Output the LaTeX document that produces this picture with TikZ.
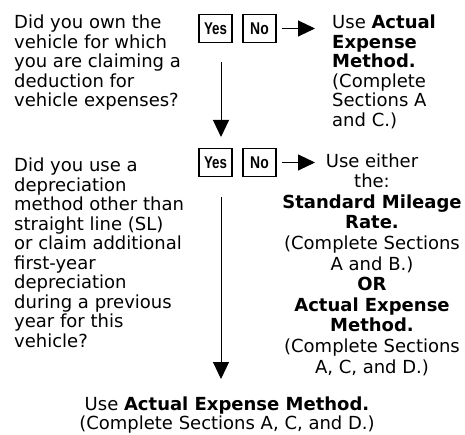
\documentclass[tikz,border=0pt]{standalone}
\usepackage{fontspec}
\setmainfont{DejaVu Sans}
\newfontfamily\ynfont{Liberation Sans}
\usetikzlibrary{arrows.meta,calc}
\begin{document}
\begin{tikzpicture}[x=1pt,y=-1pt,
  txt/.style={inner sep=0pt, font=\fontsize{18}{19.5}\selectfont},
  ltxt/.style={txt, align=left, anchor=north west},
  ctxt/.style={txt, align=center, anchor=north},
  ynbox/.style={draw, line width=1.1pt, minimum width=33pt, minimum height=28pt, inner sep=0pt,
    font=\ynfont\fontsize{17}{17}\selectfont\bfseries},
  arr/.style={line width=1pt, -{Triangle[length=17pt,width=16pt]}}]
\useasboundingbox (0,0) rectangle (465,435);
% question 1
\node[ltxt] (q1) at (14,15) {Did you own the\\vehicle for which\\you are claiming a\\deduction for\\vehicle expenses?};
\node[ynbox] (yes1) at (215.5,28.5) {\scalebox{0.78}[1]{Yes}};
\node[ynbox] (no1) at (259.5,28.5) {\scalebox{0.82}[1]{No}};
\node[ltxt] (a1) at (332,15) {Use \textbf{Actual}\\\textbf{Expense}\\\textbf{Method.}\\(Complete\\Sections A\\and C.)};
\coordinate (t1) at (315,28.5);
\draw[arr, shorten <=5pt] (no1.east) -- (t1);
% question 2
\node[ltxt] (q2) at (14,158) {Did you use a\\depreciation\\method other than\\straight line (SL)\\or claim additional\\first-year\\depreciation\\during a previous\\year for this\\vehicle?};
\node[ynbox] (yes2) at (215.5,162.5) {\scalebox{0.78}[1]{Yes}};
\node[ynbox] (no2) at (259.5,162.5) {\scalebox{0.82}[1]{No}};
\node[ctxt, font=\fontsize{18}{20.6}\selectfont] (a2) at (372,153.3) {Use either\\the:\\\textbf{Standard Mileage}\\\textbf{Rate.}\\(Complete Sections\\A and B.)\\\textbf{OR}\\\textbf{Actual Expense}\\\textbf{Method.}\\(Complete Sections\\A, C, and D.)};
\coordinate (t2) at (315,162.5);
\draw[arr, shorten <=5pt] (no2.east) -- (t2);
% vertical arrows
\coordinate (v1s) at (221,62);
\coordinate (v1e) at (221,137);
\draw[arr] (v1s) -- (v1e);
\node[ctxt, font=\fontsize{18}{19}\selectfont] (a3) at (227,396.3) {Use \textbf{Actual Expense Method.}\\(Complete Sections A, C, and D.)};
\coordinate (v2s) at (221,197);
\coordinate (v2e) at (221,379);
\draw[arr] (v2s) -- (v2e);
\end{tikzpicture}
\end{document}
